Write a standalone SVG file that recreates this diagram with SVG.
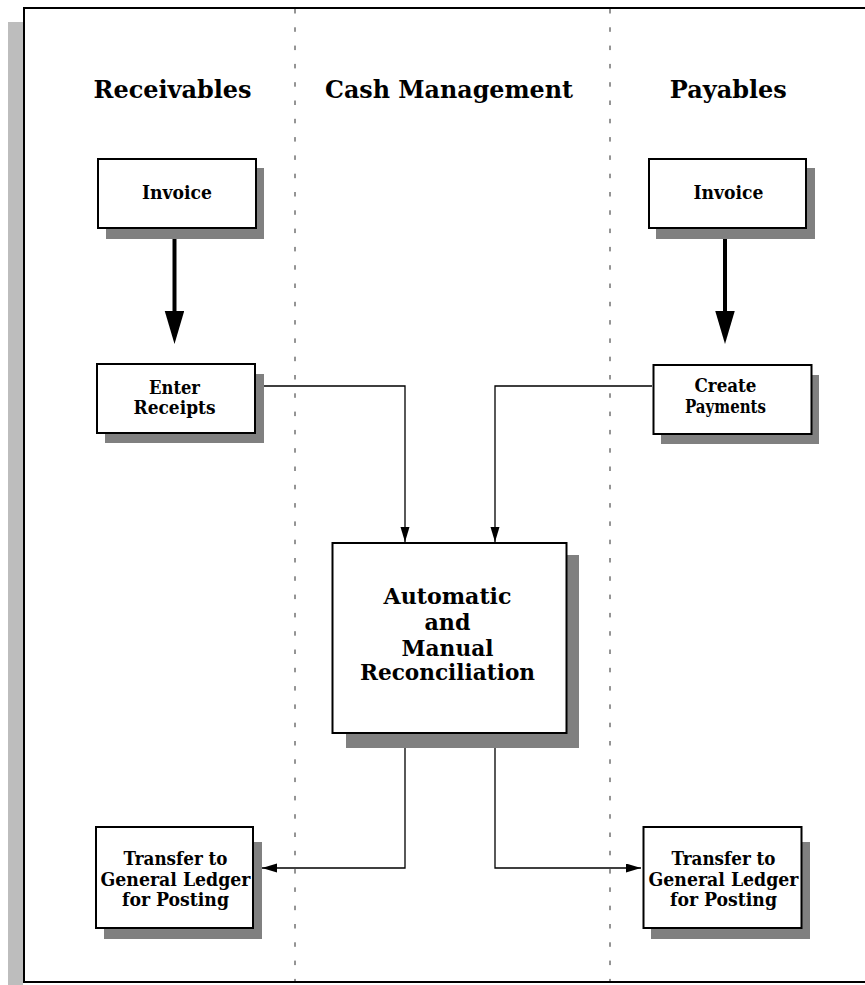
<svg xmlns="http://www.w3.org/2000/svg" width="865" height="985" viewBox="0 0 865 985">
  <style>
    .box { fill: #ffffff; stroke: #000000; stroke-width: 2; }
    .shadow { fill: #808080; stroke: none; }
    .lane { stroke: #2a2a2a; stroke-width: 1; stroke-dasharray: 4.5 13.8; fill: none; }
    text { font-family: "DejaVu Serif", "Liberation Serif", serif; font-weight: bold; text-anchor: middle; fill: #000; }
    .head { font-size: 25px; }
    .lbl { font-size: 18.5px; }
    .lbl-big { font-size: 21.5px; }
    .thick { stroke: #000; stroke-width: 4; fill: none; marker-end: url(#bigArrow); }
    .thin { stroke: #000; stroke-width: 1.3; fill: none; marker-end: url(#smallArrow); }
  </style>
  <defs>
    <marker id="bigArrow" markerUnits="userSpaceOnUse" markerWidth="34" markerHeight="20" refX="1" refY="9.75" orient="auto">
      <path d="M0,0 L33,9.75 L0,19.5 z" fill="#000"/>
    </marker>
    <marker id="smallArrow" markerUnits="userSpaceOnUse" markerWidth="16" markerHeight="10" refX="15" refY="4.5" orient="auto">
      <path d="M0,0 L15,4.5 L0,9 z" fill="#000"/>
    </marker>
  </defs>

  <!-- page background, frame and its shadow -->
  <rect x="0" y="0" width="865" height="985" fill="#ffffff"/>
  <rect x="8" y="22" width="15" height="963" fill="#bdbdbd"/>
  <rect x="24" y="8" width="850" height="974" fill="#ffffff" stroke="#000" stroke-width="2"/>

  <!-- swimlane separators -->
  <g id="lanes">
    <line class="lane" x1="295" y1="9" x2="295" y2="981"/>
    <line class="lane" x1="610" y1="9" x2="610" y2="981"/>
  </g>

  <!-- lane titles -->
  <g id="titles">
    <text class="head" x="172.5" y="98" textLength="158" lengthAdjust="spacingAndGlyphs">Receivables</text>
    <text class="head" x="449" y="97.5" textLength="248" lengthAdjust="spacingAndGlyphs">Cash Management</text>
    <text class="head" x="728.3" y="98" textLength="117" lengthAdjust="spacingAndGlyphs">Payables</text>
  </g>

  <!-- connectors -->
  <g id="connectors">
    <line class="thick" x1="174.5" y1="229" x2="174.5" y2="312"/>
    <line class="thick" x1="725" y1="229" x2="725" y2="312"/>
    <polyline class="thin" points="256,386 405,386 405,542"/>
    <polyline class="thin" points="652,386 495,386 495,542"/>
    <polyline class="thin" points="405,734 405,868 262,868"/>
    <polyline class="thin" points="495,734 495,868 641,868"/>
  </g>

  <g id="invoice-receivables">
    <rect class="shadow" x="106" y="168" width="158" height="71"/>
    <rect class="box" x="98" y="159" width="158" height="69"/>
    <text class="lbl" x="177" y="199" textLength="70" lengthAdjust="spacingAndGlyphs">Invoice</text>
  </g>

  <g id="invoice-payables">
    <rect class="shadow" x="656" y="168" width="159" height="71"/>
    <rect class="box" x="649" y="159" width="157" height="69"/>
    <text class="lbl" x="728.5" y="199" textLength="70" lengthAdjust="spacingAndGlyphs">Invoice</text>
  </g>

  <g id="enter-receipts">
    <rect class="shadow" x="105" y="374" width="159" height="69"/>
    <rect class="box" x="97" y="364" width="158" height="69"/>
    <text class="lbl" x="174.5" y="393.5" textLength="51" lengthAdjust="spacingAndGlyphs">Enter</text>
    <text class="lbl" x="174.5" y="413.5" textLength="82" lengthAdjust="spacingAndGlyphs">Receipts</text>
  </g>

  <g id="create-payments">
    <rect class="shadow" x="661" y="375" width="158" height="69"/>
    <rect class="box" x="653.5" y="365" width="158" height="69"/>
    <text class="lbl" x="725.5" y="392" textLength="62" lengthAdjust="spacingAndGlyphs">Create</text>
    <text class="lbl" x="725.5" y="413" textLength="81" lengthAdjust="spacingAndGlyphs">Payments</text>
  </g>

  <g id="reconciliation">
    <rect class="shadow" x="346" y="555" width="233" height="193"/>
    <rect class="box" x="332.5" y="543" width="234" height="190"/>
    <text class="lbl-big" x="447.5" y="604" textLength="128" lengthAdjust="spacingAndGlyphs">Automatic</text>
    <text class="lbl-big" x="447.5" y="630" textLength="46" lengthAdjust="spacingAndGlyphs">and</text>
    <text class="lbl-big" x="447.5" y="656" textLength="92" lengthAdjust="spacingAndGlyphs">Manual</text>
    <text class="lbl-big" x="447.5" y="680" textLength="175" lengthAdjust="spacingAndGlyphs">Reconciliation</text>
  </g>

  <g id="gl-transfer-receivables">
    <rect class="shadow" x="104" y="842" width="158" height="97"/>
    <rect class="box" x="96" y="827" width="157" height="101"/>
    <text class="lbl" x="175.5" y="865" textLength="104" lengthAdjust="spacingAndGlyphs">Transfer to</text>
    <text class="lbl" x="175.5" y="885.5" textLength="150" lengthAdjust="spacingAndGlyphs">General Ledger</text>
    <text class="lbl" x="175.5" y="906" textLength="107" lengthAdjust="spacingAndGlyphs">for Posting</text>
  </g>

  <g id="gl-transfer-payables">
    <rect class="shadow" x="651" y="842" width="159" height="97"/>
    <rect class="box" x="643.5" y="827" width="158" height="101"/>
    <text class="lbl" x="723.5" y="865" textLength="104" lengthAdjust="spacingAndGlyphs">Transfer to</text>
    <text class="lbl" x="723.5" y="885.5" textLength="150" lengthAdjust="spacingAndGlyphs">General Ledger</text>
    <text class="lbl" x="723.5" y="906" textLength="107" lengthAdjust="spacingAndGlyphs">for Posting</text>
  </g>
</svg>
